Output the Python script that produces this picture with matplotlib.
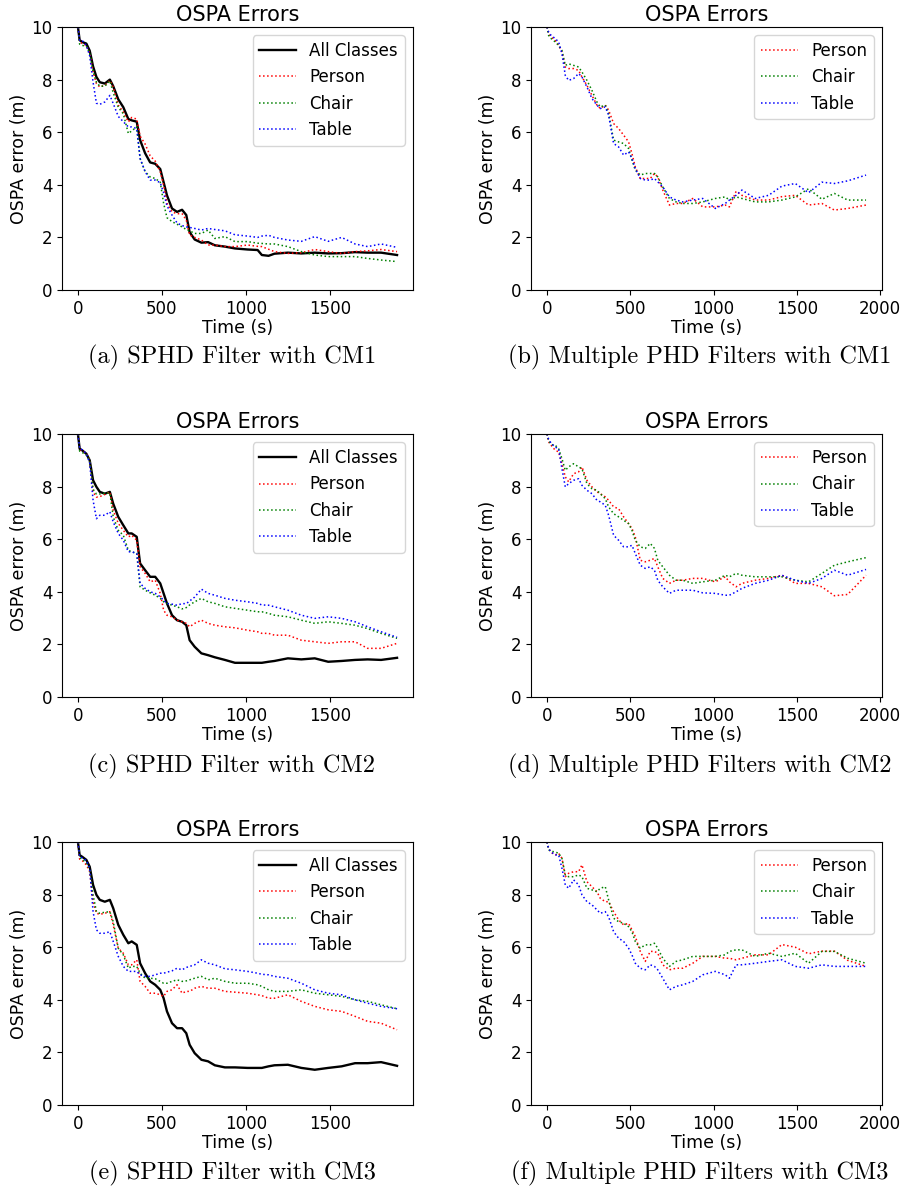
import matplotlib
matplotlib.use("Agg")
import matplotlib.pyplot as plt

plt.rcParams['font.family'] = ['DejaVu Sans']
plt.rcParams['font.size'] = 12

# Time grids (s)
t_sphd = [0, 10, 25, 50, 70, 90, 110, 130, 160, 190, 210, 240, 270, 300, 320, 350, 370, 400,
          430, 460, 490, 510, 530, 560, 590, 620, 645, 665, 695, 735, 775, 815, 875, 935,
          1010, 1070, 1095, 1135, 1170, 1250, 1330, 1410, 1490, 1570, 1650, 1725, 1805, 1900]
t_multi = t_sphd[:-1] + [1915]

# (a) SPHD Filter with CM1
a_all = [10, 9.5, 9.43, 9.37, 9.1, 8.5, 8.1, 7.9, 7.85, 8.0, 7.75, 7.25, 6.95, 6.5, 6.45, 6.4, 5.7, 5.2,
         4.85, 4.8, 4.6, 4.1, 3.6, 3.1, 2.97, 3.05, 2.85, 2.2, 1.92, 1.8, 1.82, 1.7, 1.65, 1.58,
         1.54, 1.52, 1.33, 1.3, 1.38, 1.42, 1.39, 1.42, 1.39, 1.4, 1.44, 1.42, 1.42, 1.33]
a_person = [10, 9.45, 9.37, 9.3, 9.0, 8.3, 7.85, 7.72, 7.78, 7.97, 7.72, 7.03, 6.77, 6.39, 6.56, 6.5, 5.85, 5.55,
            5.1, 4.9, 4.5, 4.0, 3.3, 2.97, 2.9, 2.9, 2.66, 2.09, 2.0, 1.9, 1.71, 1.71, 1.65, 1.65,
            1.71, 1.66, 1.65, 1.55, 1.46, 1.39, 1.42, 1.54, 1.46, 1.39, 1.46, 1.49, 1.54, 1.46]
a_chair = [10, 9.35, 9.3, 9.27, 9.0, 8.3, 7.9, 7.75, 7.75, 7.95, 7.5, 6.95, 6.7, 5.95, 6.05, 6.2, 5.0, 4.5,
           4.3, 4.24, 4.1, 3.3, 2.75, 2.6, 2.5, 2.4, 2.3, 2.25, 2.15, 2.15, 2.28, 1.96, 2.03, 1.84,
           1.84, 1.78, 1.77, 1.75, 1.75, 1.65, 1.46, 1.33, 1.27, 1.27, 1.27, 1.2, 1.14, 1.08]
a_table = [10, 9.5, 9.49, 9.3, 8.9, 7.9, 7.1, 7.06, 7.15, 7.4, 7.09, 6.6, 6.4, 6.2, 6.2, 6.14, 5.0, 4.5,
           4.18, 4.18, 4.08, 3.7, 3.2, 2.85, 2.55, 2.45, 2.4, 2.38, 2.34, 2.28, 2.34, 2.3, 2.25, 2.1,
           2.05, 2.0, 2.05, 2.08, 2.0, 1.9, 1.85, 2.03, 1.85, 2.0, 1.75, 1.65, 1.75, 1.62]

# (b) Multiple PHD Filters with CM1
b_person = [10, 9.75, 9.62, 9.49, 9.3, 9.05, 8.48, 8.42, 8.42, 8.35, 8.1, 7.78, 7.4, 7.03, 6.9, 7.03, 6.84, 6.33,
            6.14, 5.89, 5.63, 5.19, 4.68, 4.24, 4.24, 4.24, 4.43, 4.3, 3.8, 3.23, 3.29, 3.29, 3.48, 3.16,
            3.16, 3.23, 3.16, 3.75, 3.6, 3.42, 3.42, 3.55, 3.6, 3.23, 3.29, 3.04, 3.1, 3.23]
b_chair = [10, 9.68, 9.56, 9.43, 9.3, 9.11, 8.54, 8.6, 8.54, 8.48, 8.29, 7.97, 7.59, 7.15, 6.96, 7.03, 6.71, 5.7,
           5.63, 5.57, 5.38, 4.94, 4.56, 4.37, 4.43, 4.43, 4.43, 4.3, 3.92, 3.48, 3.35, 3.29, 3.29, 3.35,
           3.48, 3.54, 3.42, 3.54, 3.48, 3.35, 3.35, 3.42, 3.54, 3.85, 3.45, 3.67, 3.42, 3.42]
b_table = [10, 9.81, 9.68, 9.56, 9.43, 8.99, 8.16, 7.97, 8.04, 8.23, 8.1, 7.72, 7.28, 7.03, 6.9, 6.96, 6.65, 5.57,
           5.44, 5.13, 5.25, 5.0, 4.62, 4.24, 4.18, 4.18, 4.24, 4.11, 3.92, 3.54, 3.42, 3.35, 3.42, 3.48,
           3.1, 3.29, 3.42, 3.6, 3.8, 3.48, 3.6, 3.95, 4.05, 3.7, 4.1, 4.05, 4.15, 4.37]

# (c) SPHD Filter with CM2
c_all = [10, 9.44, 9.38, 9.25, 9.0, 8.24, 7.99, 7.8, 7.73, 7.8, 7.35, 6.85, 6.53, 6.22, 6.22, 6.09, 5.08, 4.82,
         4.57, 4.57, 4.32, 3.94, 3.56, 3.11, 2.92, 2.86, 2.73, 2.16, 1.91, 1.66, 1.59, 1.51, 1.41, 1.3,
         1.3, 1.3, 1.3, 1.34, 1.37, 1.47, 1.43, 1.47, 1.34, 1.37, 1.41, 1.43, 1.41, 1.49]
c_person = [10, 9.4, 9.35, 9.25, 9.0, 7.8, 7.6, 7.62, 7.7, 7.8, 7.1, 6.6, 6.34, 6.09, 6.15, 5.96, 4.95, 4.7,
            4.38, 4.44, 3.94, 3.3, 3.11, 3.05, 2.92, 2.86, 2.8, 2.67, 2.8, 2.92, 2.8, 2.73, 2.67, 2.63,
            2.54, 2.48, 2.42, 2.42, 2.35, 2.35, 2.16, 2.1, 2.04, 2.1, 2.1, 1.85, 1.85, 2.04]
c_chair = [10, 9.35, 9.3, 9.2, 9.0, 7.9, 7.72, 7.72, 7.75, 7.75, 6.85, 6.34, 6.15, 5.58, 5.52, 5.46, 4.19, 4.06,
           3.96, 3.87, 3.75, 3.62, 3.56, 3.49, 3.43, 3.35, 3.4, 3.5, 3.62, 3.75, 3.62, 3.56, 3.43, 3.37,
           3.3, 3.24, 3.24, 3.18, 3.11, 3.05, 2.92, 2.8, 2.86, 2.8, 2.73, 2.6, 2.42, 2.23]
c_table = [10, 9.45, 9.4, 9.25, 8.9, 7.48, 6.78, 6.91, 6.91, 7.04, 6.66, 6.22, 5.96, 5.52, 5.52, 5.46, 4.32, 4.13,
           4.0, 3.94, 3.81, 3.68, 3.56, 3.53, 3.49, 3.55, 3.55, 3.65, 3.8, 4.1, 3.94, 3.87, 3.75, 3.68,
           3.62, 3.56, 3.5, 3.49, 3.43, 3.3, 3.11, 2.99, 3.05, 2.99, 2.86, 2.67, 2.48, 2.27]

# (d) Multiple PHD Filters with CM2
d_person = [10, 9.7, 9.57, 9.38, 9.32, 8.87, 8.37, 8.18, 8.49, 8.56, 8.75, 8.24, 7.99, 7.8, 7.73, 7.61, 7.48, 7.23,
            7.16, 6.85, 6.59, 6.41, 6.09, 5.2, 5.14, 5.2, 5.27, 4.95, 4.51, 4.32, 4.44, 4.44, 4.51, 4.51,
            4.38, 4.57, 4.38, 4.19, 4.32, 4.44, 4.51, 4.63, 4.32, 4.32, 4.19, 3.85, 3.9, 4.63]
d_chair = [10, 9.75, 9.6, 9.57, 9.44, 9.06, 8.62, 8.75, 8.87, 8.75, 8.68, 8.11, 7.92, 7.86, 7.73, 7.54, 7.23, 6.97,
           6.85, 6.72, 6.59, 6.34, 5.96, 5.71, 5.65, 5.84, 5.65, 5.2, 4.95, 4.63, 4.44, 4.44, 4.32, 4.38,
           4.44, 4.63, 4.57, 4.7, 4.63, 4.57, 4.57, 4.57, 4.44, 4.38, 4.7, 5.01, 5.14, 5.3]
d_table = [10, 9.8, 9.65, 9.5, 9.44, 8.68, 7.99, 8.11, 8.24, 8.3, 8.05, 7.86, 7.73, 7.48, 7.42, 7.29, 6.91, 6.15,
           5.96, 5.71, 5.71, 5.77, 5.46, 5.01, 4.89, 4.95, 4.82, 4.44, 4.19, 3.94, 4.06, 4.06, 4.06, 3.96,
           3.94, 3.87, 3.87, 4.0, 4.13, 4.32, 4.44, 4.63, 4.44, 4.32, 4.51, 4.82, 4.63, 4.85]

# (e) SPHD Filter with CM3
e_all = [10, 9.5, 9.44, 9.32, 9.06, 8.37, 7.99, 7.8, 7.73, 7.8, 7.48, 6.85, 6.47, 6.15, 6.22, 6.09, 5.39, 5.01,
         4.7, 4.57, 4.38, 4.06, 3.56, 3.11, 2.92, 2.92, 2.73, 2.29, 1.97, 1.72, 1.66, 1.51, 1.43, 1.43,
         1.41, 1.41, 1.41, 1.47, 1.51, 1.53, 1.41, 1.34, 1.41, 1.47, 1.59, 1.59, 1.63, 1.49]
e_person = [10, 9.35, 9.3, 9.13, 8.87, 7.73, 7.29, 7.25, 7.29, 7.35, 6.85, 5.96, 5.77, 5.33, 5.33, 5.52, 4.7, 4.51,
            4.25, 4.25, 4.19, 4.13, 4.32, 4.38, 4.57, 4.25, 4.32, 4.32, 4.44, 4.51, 4.44, 4.44, 4.32, 4.29,
            4.25, 4.19, 4.16, 4.06, 4.06, 4.19, 3.94, 3.75, 3.62, 3.56, 3.37, 3.18, 3.11, 2.86]
e_chair = [10, 9.4, 9.35, 9.2, 8.95, 7.99, 7.35, 7.29, 7.33, 7.35, 6.97, 5.96, 5.71, 5.2, 5.27, 5.27, 5.01, 4.82,
           4.82, 4.8, 4.7, 4.63, 4.63, 4.7, 4.76, 4.7, 4.72, 4.76, 4.82, 4.89, 4.76, 4.82, 4.7, 4.63,
           4.63, 4.57, 4.51, 4.38, 4.32, 4.32, 4.38, 4.25, 4.19, 4.13, 4.0, 3.94, 3.81, 3.66]
e_table = [10, 9.45, 9.4, 9.3, 9.0, 7.35, 6.66, 6.53, 6.53, 6.59, 6.22, 5.65, 5.27, 5.08, 5.08, 5.08, 4.95, 4.89,
           4.89, 4.95, 5.01, 5.01, 5.05, 5.1, 5.2, 5.14, 5.23, 5.27, 5.33, 5.52, 5.39, 5.33, 5.18, 5.14,
           5.08, 5.01, 4.97, 4.95, 4.89, 4.82, 4.63, 4.38, 4.25, 4.19, 4.0, 3.87, 3.75, 3.66]

# (f) Multiple PHD Filters with CM3
f_person = [10, 9.75, 9.6, 9.51, 9.57, 9.38, 8.68, 8.81, 8.87, 8.87, 9.13, 8.49, 8.3, 8.11, 7.86, 7.73, 7.73, 7.35,
            7.04, 6.85, 6.91, 6.66, 6.41, 5.84, 5.46, 5.84, 5.84, 5.77, 5.33, 5.14, 5.2, 5.2, 5.39, 5.65,
            5.65, 5.58, 5.58, 5.52, 5.58, 5.71, 5.71, 6.1, 6.0, 5.75, 5.85, 5.85, 5.5, 5.27]
f_chair = [10, 9.7, 9.65, 9.62, 9.57, 9.38, 8.75, 8.68, 8.68, 8.75, 8.68, 8.24, 8.18, 8.11, 8.24, 8.3, 7.8, 7.1,
           6.97, 6.91, 6.78, 6.59, 6.22, 5.96, 6.09, 6.09, 6.15, 5.96, 5.58, 5.27, 5.46, 5.52, 5.65, 5.65,
           5.65, 5.71, 5.84, 5.9, 5.9, 5.65, 5.77, 5.65, 5.77, 5.39, 5.84, 5.84, 5.58, 5.39]
f_table = [10, 9.75, 9.62, 9.51, 9.51, 9.0, 8.37, 8.24, 8.56, 8.37, 7.99, 7.73, 7.61, 7.42, 7.29, 7.35, 7.16, 6.59,
           6.34, 6.22, 5.96, 5.71, 5.39, 5.2, 5.14, 5.33, 5.27, 5.14, 4.82, 4.38, 4.51, 4.57, 4.7, 4.95,
           5.08, 4.95, 4.82, 5.33, 5.33, 5.39, 5.46, 5.52, 5.27, 5.2, 5.33, 5.27, 5.27, 5.27]

captions = ["(a) SPHD Filter with CM1", "(b) Multiple PHD Filters with CM1",
            "(c) SPHD Filter with CM2", "(d) Multiple PHD Filters with CM2",
            "(e) SPHD Filter with CM3", "(f) Multiple PHD Filters with CM3"]

panels = [
    (t_sphd, a_all, a_person, a_chair, a_table),
    (t_multi, None, b_person, b_chair, b_table),
    (t_sphd, c_all, c_person, c_chair, c_table),
    (t_multi, None, d_person, d_chair, d_table),
    (t_sphd, e_all, e_person, e_chair, e_table),
    (t_multi, None, f_person, f_chair, f_table),
]

W, H = 908, 1191
fig = plt.figure(figsize=(W / 100, H / 100), dpi=100)

lefts = [62, 531]
tops = [27, 434, 842]
ax_w, ax_h = 351, 263
cap_x = [232, 700]
cap_y = [357, 766, 1173]

for i, (t, s_all, s_p, s_c, s_t) in enumerate(panels):
    r, c = divmod(i, 2)
    x0 = lefts[c]
    y0 = tops[r]
    ax = fig.add_axes([x0 / W, 1 - (y0 + ax_h) / H, ax_w / W, ax_h / H])
    if s_all is not None:
        ax.plot(t, s_all, color='black', lw=1.7, label='All Classes')
    ax.plot(t, s_p, color='red', ls=':', lw=1.1, label='Person')
    ax.plot(t, s_c, color='green', ls=':', lw=1.1, label='Chair')
    ax.plot(t, s_t, color='blue', ls=':', lw=1.1, label='Table')
    ax.set_ylim(0, 10)
    ax.set_title('OSPA Errors', fontsize=15, pad=4)
    ax.set_xlabel('Time (s)', fontsize=12.5, labelpad=1)
    ax.set_ylabel('OSPA error (m)', fontsize=12.5, labelpad=2)
    ax.tick_params(labelsize=12)
    ax.legend(loc='upper right', fontsize=12, handlelength=2.2)
    fig.text(cap_x[c] / W, 1 - cap_y[r] / H, captions[i], family='cmr10',
             fontsize=17.5, ha='center', va='center')

fig.savefig('out.png', dpi=100)
